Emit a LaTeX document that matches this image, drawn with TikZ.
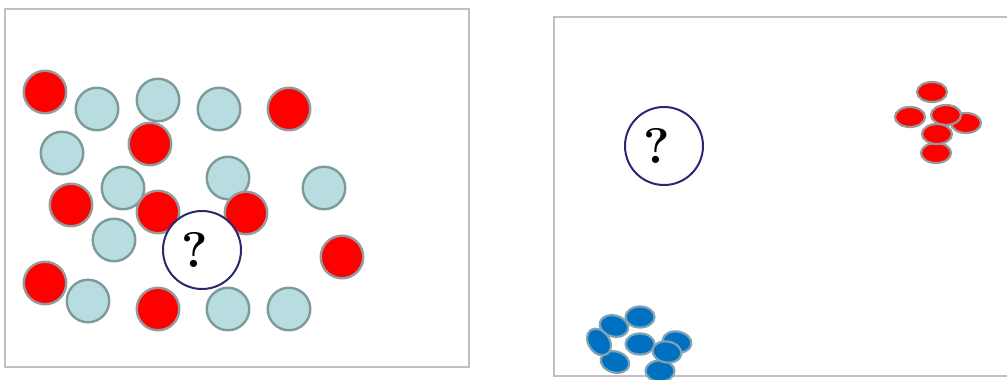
\documentclass[tikz,border=0pt]{standalone}
\usepackage{tikz}
\usetikzlibrary{shapes.geometric}
\definecolor{redfill}{HTML}{FF0000}
\definecolor{redborder}{HTML}{959B9B}
\definecolor{bluefill}{HTML}{B7DDE1}
\definecolor{blueborder}{HTML}{7D9A9A}
\definecolor{deepfill}{HTML}{0070C0}
\definecolor{deepborder}{HTML}{7FA2B5}
\definecolor{queryborder}{HTML}{2A2872}
\definecolor{framegray}{HTML}{C0C0C0}

\begin{document}
\begin{tikzpicture}[
    x=1pt, y=-1pt,
    frame/.style={draw=framegray, line width=2pt},
    redpt/.style={circle, fill=redfill, draw=redborder, line width=2.4pt,
                  minimum size=42.5pt, inner sep=0pt},
    bluept/.style={circle, fill=bluefill, draw=blueborder, line width=2.4pt,
                   minimum size=42.5pt, inner sep=0pt},
    redcell/.style={ellipse, fill=redfill, draw=redborder, line width=2.2pt,
                    minimum width=30pt, minimum height=20pt, inner sep=0pt},
    bluecell/.style={ellipse, fill=deepfill, draw=deepborder, line width=2.2pt,
                     minimum width=29pt, minimum height=21pt, inner sep=0pt},
    query/.style={circle, draw=queryborder, fill=white, line width=2pt,
                  minimum size=78pt, inner sep=0pt,
                  font=\fontsize{50}{50}\selectfont\bfseries},
]
\useasboundingbox (0,0) rectangle (1007,380);

% Left panel: mixed points
\draw[frame] (5,9) rectangle (469,367);

\node[bluept] (b1) at (97,109) {};
\node[bluept] (b2) at (158,100) {};
\node[bluept] (b3) at (219,109) {};
\node[bluept] (b4) at (62,153) {};
\node[bluept] (b5) at (123,188) {};
\node[bluept] (b6) at (228,178) {};
\node[bluept] (b7) at (324,188) {};
\node[bluept] (b8) at (114,240) {};
\node[bluept] (b9) at (88,301) {};
\node[bluept] (b10) at (228,309) {};
\node[bluept] (b11) at (289,309) {};

\node[redpt] (r1) at (45,92) {};
\node[redpt] (r2) at (289,109) {};
\node[redpt] (r3) at (150,144) {};
\node[redpt] (r4) at (71,205) {};
\node[redpt] (r5) at (158,212) {};
\node[redpt] (r6) at (246,213) {};
\node[redpt] (r7) at (342,257) {};
\node[redpt] (r8) at (45,283) {};
\node[redpt] (r9) at (158,309) {};

\node[query] (qleft) at (202,250) {?\rule{14pt}{0pt}};

% Right panel: two separated clusters
\draw[frame] (1007,17) -- (554,17) -- (554,376) -- (1007,376);

\node[query] (qright) at (664,146) {?\rule{14pt}{0pt}};

\node[redcell] (c1) at (932,92) {};
\node[redcell] (c2) at (910,117) {};
\node[redcell] (c3) at (966,123) {};
\node[redcell] (c4) at (946,115) {};
\node[redcell] (c5) at (936,153) {};
\node[redcell] (c6) at (937,134) {};

\node[bluecell, rotate=-15] (d1) at (614,326) {};
\node[bluecell] (d2) at (640,317) {};
\node[bluecell, rotate=-15] (d3) at (615,362) {};
\node[bluecell, rotate=-55] (d4) at (599,342) {};
\node[bluecell] (d5) at (640,344) {};
\node[bluecell, rotate=-10] (d6) at (677,342) {};
\node[bluecell] (d7) at (660,371) {};
\node[bluecell, rotate=-10] (d8) at (667,352) {};

\end{tikzpicture}
\end{document}
